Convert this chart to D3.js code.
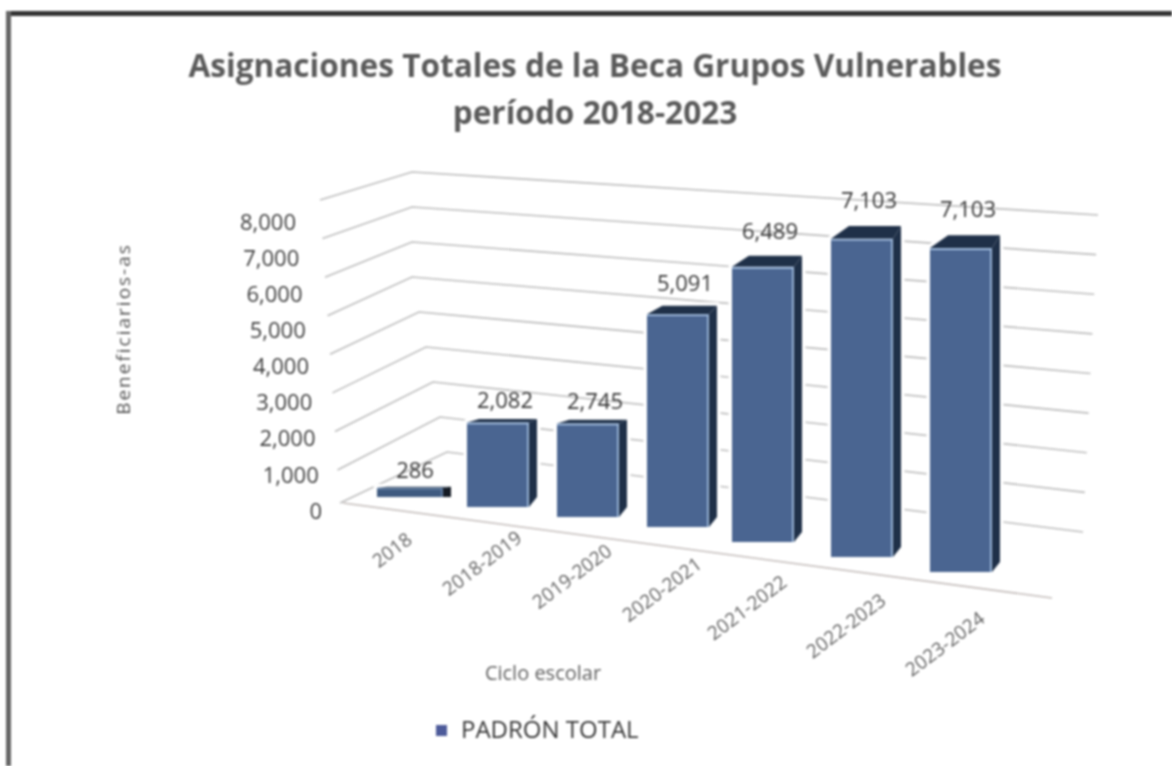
<!DOCTYPE html>
<html>
<head>
<meta charset="utf-8">
<script src="https://cdn.jsdelivr.net/npm/d3@7/dist/d3.min.js"></script>
<style>
html,body{margin:0;padding:0;background:#fff;overflow:hidden}
svg{display:block;filter:blur(0.8px)}
text{font-family:"Open Sans",sans-serif}
</style>
</head>
<body>
<svg id="chart" width="1172" height="766"></svg>
<script>
const titleLines = ["Asignaciones Totales de la Beca Grupos Vulnerables", "período 2018-2023"];
const categories = ["2018", "2018-2019", "2019-2020", "2020-2021", "2021-2022", "2022-2023", "2023-2024"];
const values = [286, 2082, 2745, 5091, 6489, 7103, 7103];
// bar heights as drawn in the picture (the 2019-2020 bar is drawn shorter than its label)
const drawnValues = [230, 2082, 2270, 5091, 6489, 7103, 7103];
const yTicks = [0, 1000, 2000, 3000, 4000, 5000, 6000, 7000, 8000];
const yTitle = "Beneficiarios-as";
const xTitle = "Ciclo escolar";
const legendLabel = "PADRÓN TOTAL";

const svg = d3.select("#chart");
const fmt = d3.format(",");

// frame
svg.append("rect").attr("x", 6).attr("y", 11).attr("width", 1166).attr("height", 5).attr("fill", "#333");
svg.append("rect").attr("x", 6).attr("y", 11).attr("width", 5).attr("height", 755).attr("fill", "#666");

// title
svg.selectAll(".title").data(titleLines).join("text").attr("class", "title")
  .attr("x", 595).attr("y", (d, i) => 77 + i * 47)
  .attr("text-anchor", "middle").attr("font-size", 31.6).attr("font-weight", 700)
  .attr("fill", "#5a5a5a").text(d => d);

// perspective wall scales: value -> pixel on the three edges of the walls
const dom = [0, 8000];
const leftX = d3.scaleLinear(dom, [340, 320]);
const leftY = d3.scaleLinear([0, 1000, 8000], [503, 470, 200]);
const cornerX = d3.scaleLinear([0, 5000, 8000], [447, 412, 412]);
const cornerY = d3.scaleLinear(dom, [452, 172]);
const rightX = d3.scaleLinear(dom, [1083, 1098]);
const rightY = d3.scaleLinear(dom, [532, 215]);

const line = d3.line();
svg.append("g").selectAll("path").data(yTicks).join("path")
  .attr("d", v => line([[leftX(v), leftY(v)], [cornerX(v), cornerY(v)], [rightX(v), rightY(v)]]))
  .attr("fill", "none").attr("stroke", "#bdbdbd").attr("stroke-width", 1.6);

// floor front edge
const edge = d3.scaleLinear([0, 1], [503, 598]);
const edgeX = d3.scaleLinear([0, 1], [343, 1052]);
svg.append("path").attr("d", line([0, 1].map(t => [edgeX(t), edge(t)])))
  .attr("fill", "none").attr("stroke", "#c4bdbb").attr("stroke-width", 1.6);

// y tick labels
const tickX = d3.scaleLinear(dom, [322, 296]);
const tickY = d3.scaleLinear(dom, [511, 222]);
svg.append("g").selectAll("text").data(yTicks).join("text")
  .attr("x", tickX).attr("y", tickY).attr("dy", "0.35em")
  .attr("text-anchor", "end").attr("font-size", 22).attr("fill", "#3e3e3e")
  .text(fmt);

// y title
svg.append("text").attr("transform", "translate(123,329) rotate(-90)")
  .attr("dy", "0.35em").attr("text-anchor", "middle")
  .attr("font-size", 19).attr("letter-spacing", 2).attr("fill", "#555").text(yTitle);

// bars
const idx = categories.map((c, i) => i);
const barX = d3.scaleLinear([0, 3, 4, 6], [377, 647, 732, 930]);
const barBottom = d3.scaleLinear([0, 3, 6], [497, 527, 572]);
const perUnit = d3.scaleLinear([0, 4, 5, 6], [0.040, 0.0424, 0.0448, 0.0456]);
const barW = 62, sideDx = 8, slopeTop = 0.04;

const bars = svg.append("g").selectAll("g").data(idx).join("g");
const geom = i => {
  const h = drawnValues[i] * perUnit(i);
  const x0 = barX(i), x1 = x0 + barW + (i === 0 ? 4 : 0), b = barBottom(i), t = b - h;
  const dy = Math.max(1, h * slopeTop), dxL = 10 + h * 0.025;
  const backBottom = h < 15 ? b : b - 10;
  return { h, x0, x1, b, t, dy, dxL, backBottom };
};
const poly = pts => "M" + pts.map(p => p.join(",")).join("L") + "Z";

// white halo keeps the gridlines off the bars, as in the picture
bars.append("path").attr("d", i => { const g = geom(i);
    return poly([[g.x0, g.t], [g.x0 + g.dxL, g.t - g.dy], [g.x1 + sideDx, g.t - g.dy], [g.x1 + sideDx, g.backBottom], [g.x1, g.b], [g.x0, g.b]]); })
  .attr("fill", "#fff").attr("stroke", "#fff").attr("stroke-width", 7).attr("stroke-linejoin", "round");
// side
bars.append("path").attr("d", i => { const g = geom(i);
    return poly([[g.x1, g.t], [g.x1 + sideDx, g.t - g.dy], [g.x1 + sideDx, g.backBottom], [g.x1, g.b]]); })
  .attr("fill", i => i === 0 ? "#141a24" : "#1f3048");
// top
bars.append("path").attr("d", i => { const g = geom(i);
    return poly([[g.x0, g.t], [g.x0 + g.dxL, g.t - g.dy], [g.x1 + sideDx, g.t - g.dy], [g.x1, g.t]]); })
  .attr("fill", "#1f3048");
// front
bars.append("rect").attr("x", i => geom(i).x0).attr("y", i => geom(i).t)
  .attr("width", i => geom(i).x1 - geom(i).x0).attr("height", i => geom(i).b - geom(i).t)
  .attr("fill", i => i === 0 ? "#3f5a80" : "#4a6591");
// light edges of the front face
bars.append("path").attr("d", i => { const g = geom(i);
    return line([[g.x0, g.t + 1], [g.x1 - 1, g.t + 1], [g.x1 - 1, g.b]]); })
  .attr("fill", "none").attr("stroke", "#a9c4e4").attr("stroke-width", i => i === 0 ? 0.6 : 1.6);

// data labels
svg.append("g").selectAll("text").data(idx).join("text")
  .attr("x", i => barX(i) + 38).attr("y", i => geom(i).t - geom(i).dy - (16 + geom(i).h * 0.03)).attr("dy", "0.35em")
  .attr("text-anchor", "middle").attr("font-size", 22).attr("fill", "#363636")
  .text(i => fmt(values[i]));

// category labels
const labelDy = d3.scaleLinear([0, 6], [53, 72]);
svg.append("g").selectAll("text").data(idx).join("text")
  .attr("transform", i => `translate(${barX(i) + 15},${barBottom(i) + labelDy(i)}) rotate(-37)`)
  .attr("dy", "0.35em").attr("text-anchor", "middle")
  .attr("font-size", 19).attr("fill", "#606060").text(i => categories[i]);

// x title
svg.append("text").attr("x", 543).attr("y", 673).attr("dy", "0.35em")
  .attr("text-anchor", "middle").attr("font-size", 20).attr("fill", "#606060").text(xTitle);

// legend
svg.append("rect").attr("x", 436).attr("y", 725).attr("width", 11).attr("height", 11).attr("fill", "#4d5b9a");
svg.append("text").attr("x", 461).attr("y", 730).attr("dy", "0.35em")
  .attr("font-size", 24).attr("fill", "#363636").text(legendLabel);
</script>
</body>
</html>
